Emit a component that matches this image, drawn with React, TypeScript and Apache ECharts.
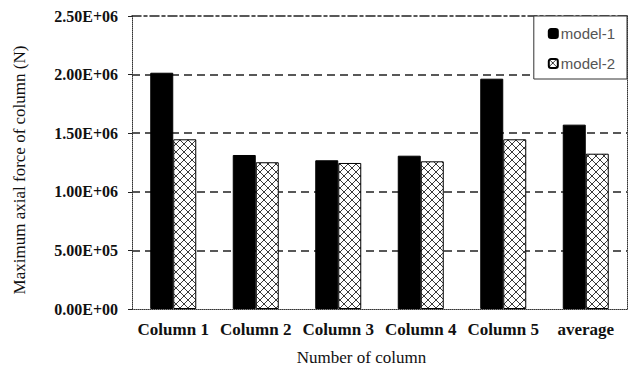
import React, { useEffect, useRef } from "react";
import * as echarts from "echarts";

const categories = ["Column 1", "Column 2", "Column 3", "Column 4", "Column 5", "average"];
const model1 = [2.016e6, 1.314e6, 1.269e6, 1.308e6, 1.965e6, 1.573e6];
const model2 = [1.448e6, 1.252e6, 1.246e6, 1.26e6, 1.448e6, 1.325e6];
const seriesNames = ["model-1", "model-2"];
const yMin = 0;
const yMax = 2.5e6;
const yInterval = 5e5;

function fmtExp(v: number): string {
  const [m, e] = v.toExponential(2).split("e");
  const sign = e[0] === "-" ? "-" : "+";
  const digits = e.replace(/[+-]/, "").padStart(2, "0");
  return `${m}E${sign}${digits}`;
}

function makePattern(): HTMLCanvasElement {
  const c = document.createElement("canvas");
  c.width = 8;
  c.height = 8;
  const ctx = c.getContext("2d")!;
  ctx.fillStyle = "#ffffff";
  ctx.fillRect(0, 0, 8, 8);
  ctx.strokeStyle = "#3a3a3a";
  ctx.lineWidth = 1;
  ctx.beginPath();
  ctx.moveTo(0, 0);
  ctx.lineTo(8, 8);
  ctx.moveTo(8, 0);
  ctx.lineTo(0, 8);
  ctx.stroke();
  return c;
}

export default function App() {
  const ref = useRef<HTMLDivElement>(null);
  useEffect(() => {
    document.body.style.margin = "0";
    const chart = echarts.init(ref.current!, null, { renderer: "svg" });
    const serif = "'Liberation Serif', 'DejaVu Serif', serif";
    const pattern = { image: makePattern(), repeat: "repeat" } as any;
    chart.setOption({
      animation: false,
      backgroundColor: "#ffffff",
      grid: { left: 132, right: 10, top: 16, bottom: 63 },
      legend: {
        orient: "vertical",
        right: 10,
        top: 16,
        data: seriesNames,
        itemWidth: 9,
        itemHeight: 9,
        itemGap: 15,
        padding: [10, 12, 8, 14],
        borderColor: "#333",
        borderWidth: 1,
        backgroundColor: "#fff",
        textStyle: { fontFamily: "'Liberation Sans', Arial, sans-serif", fontSize: 15, color: "#555", padding: [0, 0, 0, -2] },
      },
      xAxis: [
        {
          type: "category",
          data: categories,
          position: "bottom",
          axisLine: { onZero: false, lineStyle: { type: "dotted", color: "#333", width: 1 } },
          axisTick: { show: false },
          axisLabel: { interval: 0, fontFamily: serif, fontWeight: "bold", fontSize: 17, color: "#111", margin: 12 },
          name: "Number of column",
          nameLocation: "middle",
          nameGap: 40,
          nameTextStyle: { fontFamily: serif, fontSize: 17, color: "#111", padding: [0, 36, 0, 0] },
        },
        {
          type: "category",
          data: categories,
          position: "top",
          axisLine: { show: true, onZero: false, lineStyle: { type: [9, 3, 3, 3], color: "#222", width: 1.5 } },
          axisTick: { show: false },
          axisLabel: { show: false },
        },
      ],
      yAxis: [
        {
          type: "value",
          min: yMin,
          max: yMax,
          interval: yInterval,
          position: "left",
          axisLine: { show: true, onZero: false, lineStyle: { type: "dotted", color: "#333", width: 1 } },
          axisTick: { show: true, length: 4, lineStyle: { color: "#222" } },
          axisLabel: {
            formatter: (v: number) => fmtExp(v),
            fontFamily: serif,
            fontWeight: "bold",
            fontSize: 16,
            color: "#111",
            margin: 14,
          },
          splitLine: {
            show: true,
            showMinLine: false,
            showMaxLine: false,
            lineStyle: { type: [8, 5], color: "#222", width: 1.5 },
          },
          name: "Maximum axial force of column (N)",
          nameLocation: "middle",
          nameGap: 104,
          nameRotate: 90,
          nameTextStyle: { fontFamily: serif, fontSize: 17, color: "#111", padding: [0, 0, 0, -15] },
        },
        {
          type: "value",
          min: yMin,
          max: yMax,
          interval: yInterval,
          position: "right",
          axisLine: { show: true, onZero: false, lineStyle: { type: "dotted", color: "#333", width: 1 } },
          axisTick: { show: false },
          axisLabel: { show: false },
          splitLine: { show: false },
        },
      ],
      series: [
        {
          name: seriesNames[0],
          type: "bar",
          data: model1,
          barWidth: 23,
          barGap: "0%",
          itemStyle: { color: "#000", borderColor: "#000", borderWidth: 1 },
        },
        {
          name: seriesNames[1],
          type: "bar",
          data: model2,
          barWidth: 23,
          barGap: "0%",
          itemStyle: { color: pattern, borderColor: "#000", borderWidth: 1 },
        },
      ],
    });
    return () => chart.dispose();
  }, []);
  return <div ref={ref} style={{ width: 637, height: 372 }} />;
}
